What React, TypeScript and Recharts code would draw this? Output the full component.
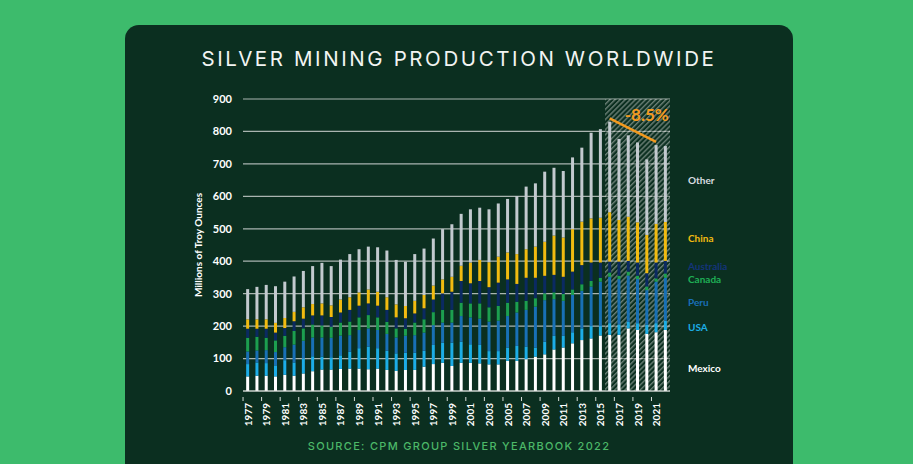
import React from 'react';
import { BarChart, Bar, XAxis, YAxis, CartesianGrid, ReferenceArea, ReferenceLine, ReferenceDot } from 'recharts';

const YEARS = [
  '1977', '1978', '1979', '1980', '1981', '1982', '1983', '1984', '1985', '1986',
  '1987', '1988', '1989', '1990', '1991', '1992', '1993', '1994', '1995', '1996',
  '1997', '1998', '1999', '2000', '2001', '2002', '2003', '2004', '2005', '2006',
  '2007', '2008', '2009', '2010', '2011', '2012', '2013', '2014', '2015', '2016',
  '2017', '2018', '2019', '2020', '2021', '2022',
];

// millions of troy ounces
const MEXICO = [45, 47, 47, 45, 50, 47, 54, 61, 66, 66, 68, 69, 69, 67, 69, 65, 62, 65, 65, 75,
  83, 87, 77, 87, 87, 85, 82, 82, 93, 93, 98, 106, 113, 128, 134, 147, 157, 162, 171, 173,
  173, 193, 188, 176, 181, 188];
const USA = [38, 41, 39, 34, 45, 41, 46, 46, 40, 38, 42, 52, 63, 70, 63, 59, 54, 53, 53, 49,
  59, 62, 72, 65, 57, 57, 41, 41, 41, 46, 39, 28, 39, 42, 36, 34, 36, 38, 29, 36,
  32, 20, 21, 28, 28, 29];
const PERU = [39, 37, 40, 41, 40, 55, 55, 58, 59, 60, 61, 51, 56, 56, 56, 52, 49, 52, 54, 56,
  61, 62, 62, 79, 83, 81, 91, 94, 97, 103, 113, 126, 128, 113, 108, 115, 116, 122, 137, 143,
  140, 143, 136, 107, 128, 132];
const CANADA = [42, 42, 38, 36, 35, 42, 38, 40, 37, 34, 40, 42, 39, 41, 39, 37, 28, 22, 39, 41,
  40, 39, 39, 41, 43, 47, 44, 45, 41, 33, 28, 26, 21, 21, 21, 17, 20, 17, 12, 13,
  10, 12, 10, 11, 10, 13];
const AUSTRALIA = [28, 25, 28, 24, 24, 30, 30, 28, 31, 30, 31, 36, 36, 36, 36, 37, 34, 32, 28, 34,
  39, 51, 56, 67, 62, 69, 62, 72, 72, 55, 71, 63, 54, 54, 53, 55, 59, 57, 47, 34,
  44, 33, 41, 41, 49, 39];
const CHINA = [29, 29, 29, 30, 31, 29, 35, 35, 37, 36, 40, 39, 41, 43, 43, 39, 40, 38, 39, 41,
  43, 43, 46, 47, 64, 65, 77, 80, 83, 92, 88, 96, 105, 121, 121, 131, 134, 136, 138, 152,
  128, 136, 124, 118, 119, 120];
const OTHER = [93, 100, 106, 113, 112, 109, 112, 117, 125, 121, 123, 133, 133, 132, 137, 144, 137, 136, 144, 143,
  145, 155, 162, 160, 164, 161, 163, 164, 165, 179, 193, 195, 216, 209, 205, 221, 228, 264, 273, 279,
  250, 251, 246, 233, 243, 234];

const Y_TICKS = [0, 100, 200, 300, 400, 500, 600, 700, 800, 900];

const SERIES = [
  { key: 'Mexico', values: MEXICO, color: '#ffffff' },
  { key: 'USA', values: USA, color: '#1cade6' },
  { key: 'Peru', values: PERU, color: '#1870b5' },
  { key: 'Canada', values: CANADA, color: '#1c9f4f' },
  { key: 'Australia', values: AUSTRALIA, color: '#0b2a62' },
  { key: 'China', values: CHINA, color: '#f1bb10' },
  { key: 'Other', values: OTHER, color: '#c3cacf' },
];

const LEGEND = [
  { label: 'Other', color: '#d9dde0', top: 180 },
  { label: 'China', color: '#f1bb10', top: 238 },
  { label: 'Australia', color: '#14347a', top: 266 },
  { label: 'Canada', color: '#1fae55', top: 279 },
  { label: 'Peru', color: '#1a6fb8', top: 302 },
  { label: 'USA', color: '#1cade6', top: 327 },
  { label: 'Mexico', color: '#ffffff', top: 368 },
];

const data = YEARS.map((year, i) => {
  const row: Record<string, string | number> = { year };
  SERIES.forEach((s) => { row[s.key] = s.values[i]; });
  return row;
});

const FONT = 'Lato, "Open Sans", sans-serif';
const ORANGE = '#f39a1e';

function YearTick(props: any) {
  const { x, y, payload } = props;
  return (
    <g>
      <line x1={x - 4.6} x2={x - 4.6} y1={y - 2} y2={y + 2} stroke="#d8dcd8" strokeWidth={1} />
      <text x={x} y={y + 4} transform={`rotate(-90, ${x}, ${y + 4})`} textAnchor="end" dominantBaseline="central"
        fill="#ffffff" fontSize={10} fontWeight={700} fontFamily={FONT}>
        {payload.value}
      </text>
    </g>
  );
}

function DropLabel(props: any) {
  const { viewBox } = props;
  const cx = viewBox.x + (viewBox.width || 0) / 2;
  const cy = viewBox.y + (viewBox.height || 0) / 2;
  return (
    <text x={cx} y={cy} textAnchor="middle" dominantBaseline="central" fill={ORANGE}
      fontSize={17} fontWeight={700} fontFamily={FONT}>
      -8.5%
    </text>
  );
}

export default function App() {
  return (
    <div style={{ position: 'fixed', left: 0, top: 0, width: 913, height: 464, background: '#3dbb6c', overflow: 'hidden' }}>
      <div style={{ position: 'absolute', left: 125, top: 25, width: 668, height: 470, borderRadius: 14, background: '#0b2f20' }} />
      <div style={{ position: 'absolute', left: 125, top: 46, width: 668, textAlign: 'center', color: '#f2f4f2',
        fontFamily: 'Inter, sans-serif', fontSize: 20.5, letterSpacing: 2.6, fontWeight: 400 }}>
        SILVER MINING PRODUCTION WORLDWIDE
      </div>
      <div style={{ position: 'absolute', left: 125, top: 439, width: 668, textAlign: 'center', color: '#4cb868',
        fontFamily: 'Inter, sans-serif', fontSize: 11, letterSpacing: 1.3, fontWeight: 500 }}>
        SOURCE: CPM GROUP SILVER YEARBOOK 2022
      </div>
      <div style={{ position: 'absolute', left: 198, top: 245, transform: 'translate(-50%, -50%) rotate(-90deg)',
        whiteSpace: 'nowrap', color: '#ffffff', fontFamily: FONT, fontSize: 10, fontWeight: 700 }}>
        Millions of Troy Ounces
      </div>
      {LEGEND.map((l) => (
        <div key={l.label} style={{ position: 'absolute', left: 688, top: l.top - 6, color: l.color,
          fontFamily: FONT, fontSize: 10, fontWeight: 700, lineHeight: '12px' }}>
          {l.label}
        </div>
      ))}
      <div style={{ position: 'absolute', left: 150, top: 85 }}>
        <BarChart width={600} height={350} data={data} margin={{ top: 14, right: 80, left: 0, bottom: 4 }}
          barCategoryGap="34%">
          <defs>
            <pattern id="hatch" width="3.6" height="3.6" patternUnits="userSpaceOnUse" patternTransform="rotate(45)">
              <rect x="0" y="0" width="1.4" height="3.6" fill="#c9cfcc" fillOpacity={0.5} />
              <rect x="1.8" y="0" width="1.4" height="3.6" fill="#0b2f20" fillOpacity={0.45} />
            </pattern>
          </defs>
          <CartesianGrid vertical={false} stroke="#aab5b0" strokeWidth={1.2} />
          <XAxis dataKey="year" interval={1} height={40} tick={<YearTick />} tickLine={false}
            axisLine={{ stroke: '#d8dcd8' }} />
          <YAxis domain={[0, 900]} ticks={Y_TICKS} width={93} axisLine={false} tickLine={false} tickMargin={5}
            tick={{ fill: '#ffffff', fontSize: 11, fontWeight: 700, fontFamily: FONT }} />
          {SERIES.map((s) => (
            <Bar key={s.key} dataKey={s.key} stackId="a" fill={s.color} isAnimationActive={false} />
          ))}
          <ReferenceArea x1="2016" x2="2022" y1={0} y2={900} fill="url(#hatch)" fillOpacity={1} stroke="none" ifOverflow="visible" />
          <ReferenceLine segment={[{ x: '2016', y: 840 }, { x: '2021', y: 768 }]} stroke={ORANGE} strokeWidth={2.5} ifOverflow="visible" />
          <ReferenceDot x="2020" y={851} r={0} ifOverflow="visible" label={<DropLabel />} />
        </BarChart>
      </div>
    </div>
  );
}
